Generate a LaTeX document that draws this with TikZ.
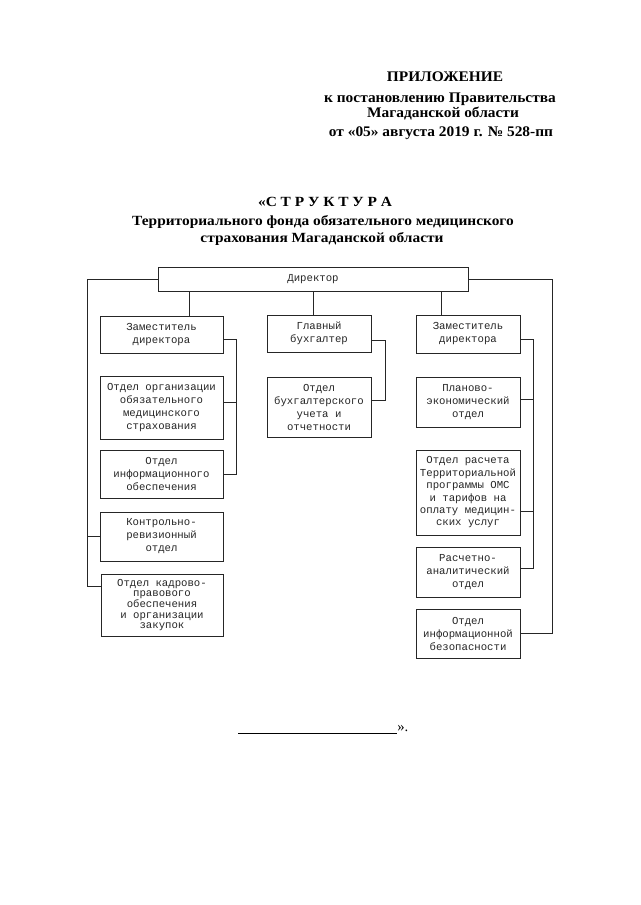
\documentclass[tikz,border=0pt]{standalone}
\usepackage{fontspec}
\usepackage{graphicx}
\setmainfont{Liberation Serif}
\newfontfamily\boxfont{Liberation Mono}
\usetikzlibrary{calc}
\newcommand{\hdtext}[1]{\scalebox{1.1}[1]{#1}}
\newcommand{\hdtextB}[1]{\scalebox{1.05}[1]{#1}}
\begin{document}
\begin{tikzpicture}[x=0.75pt,y=-0.75pt,
  orgbox/.style={draw=black!85, line width=0.65pt, align=center, inner sep=1pt,
    font=\boxfont\fontsize{8}{9.75}\selectfont, text=black!85},
  link/.style={draw=black!85, line width=0.65pt},
  head/.style={font=\bfseries\fontsize{10.5}{12}\selectfont, align=center, inner sep=0pt},
  headB/.style={font=\bfseries\fontsize{11}{13}\selectfont, align=center, inner sep=0pt}]
\useasboundingbox (0,0) rectangle (640,905);
\fill[white] (0,0) rectangle (640,905);

% header
\node[headB] (h1) at (445,77) {\hdtextB{ПРИЛОЖЕНИЕ}};
\node[headB] (h2) at (440,99) {\hdtextB{к постановлению Правительства}};
\node[headB] (h3) at (443,114) {\hdtextB{Магаданской области}};
\node[headB] (h4) at (441,133) {\hdtextB{от «05» августа 2019 г. № 528-пп}};

% title
\node[head] (t1) at (325,202) {\hdtext{«С Т Р У К Т У Р А}};
\node[head] (t2) at (323,222) {\hdtext{Территориального фонда обязательного медицинского}};
\node[head] (t3) at (322,239) {\hdtext{страхования Магаданской области}};

% boxes
\node[orgbox, minimum width=232.5pt, minimum height=18pt] (dir) at (313,279) {Директор};
\node[orgbox, minimum width=92.25pt, minimum height=27.75pt] (zamL) at (161.5,334.5) {Заместитель\\директора};
\node[orgbox, minimum width=78pt, minimum height=27.75pt] (glav) at (319,333.5) {Главный\\бухгалтер};
\node[orgbox, minimum width=78pt, minimum height=28.5pt] (zamR) at (468,334) {Заместитель\\директора};

\node[orgbox, minimum width=92.25pt, minimum height=47.25pt] (oms) at (161.5,407.5) {Отдел организации\\обязательного\\медицинского\\страхования};
\node[orgbox, minimum width=92.25pt, minimum height=36pt] (info) at (161.5,474) {Отдел\\информационного\\обеспечения};
\node[orgbox, minimum width=92.25pt, minimum height=36.75pt] (kontr) at (161.5,536.5) {Контрольно-\\ревизионный\\отдел};
\node[orgbox, minimum width=91.5pt, minimum height=46.5pt,
      font=\boxfont\fontsize{8}{7.9}\selectfont] (kadr) at (162,605) {Отдел кадрово-\\правового\\обеспечения\\и организации\\закупок};

\node[orgbox, minimum width=78pt, minimum height=45pt] (buh) at (319,407) {Отдел\\бухгалтерского\\учета и\\отчетности};

\node[orgbox, minimum width=78pt, minimum height=37.5pt] (plan) at (468,402) {Планово-\\экономический\\отдел};
\node[orgbox, minimum width=78pt, minimum height=63.75pt,
      font=\boxfont\fontsize{8}{9.3}\selectfont] (rasch) at (468,492.5) {Отдел расчета\\Территориальной\\программы ОМС\\и тарифов на\\оплату медицин-\\ских услуг};
\node[orgbox, minimum width=78pt, minimum height=37.5pt] (ranal) at (468,572) {Расчетно-\\аналитический\\отдел};
\node[orgbox, minimum width=78pt, minimum height=36.75pt] (bez) at (468,633.5) {Отдел\\информационной\\безопасности};

% director stubs
\draw[link] (dir.south -| 189,0) -- (zamL.north -| 189,0);
\draw[link] (dir.south -| 313,0) -- (glav.north -| 313,0);
\draw[link] (dir.south -| 441,0) -- (zamR.north -| 441,0);

% outer left
\coordinate (Lbot) at (87,586);
\draw[link] (dir.west) -| (Lbot) -- (kadr.west |- Lbot);
\draw[link] (kontr.west) -- (kontr.west -| Lbot);
% outer right
\coordinate (Rbot) at (552,633.5);
\draw[link] (dir.east) -| (Rbot) -- (bez.east);

% left bracket
\coordinate (LBt) at (236,339);
\coordinate (LBb) at (236,474);
\draw[link] (zamL.east |- LBt) -- (LBt) -- (LBb) -- (info.east);
\draw[link] (oms.east |- 0,402) -- (236,402);

% middle bracket
\coordinate (MBt) at (385,340);
\coordinate (MBb) at (385,400);
\draw[link] (glav.east |- MBt) -- (MBt) -- (MBb) -- (buh.east |- MBb);

% right bracket
\coordinate (RBt) at (533,339);
\coordinate (RBb) at (533,568);
\draw[link] (zamR.east |- RBt) -- (RBt) -- (RBb) -- (ranal.east |- RBb);
\draw[link] (plan.east |- 0,399) -- (533,399);
\draw[link] (rasch.east |- 0,511) -- (533,511);

% closing line
\node[font=\fontsize{11}{13}\selectfont, anchor=west, inner sep=0pt] (close) at (397,729) {».};
\coordinate (lineL) at (238,733);
\draw[line width=0.6pt] (lineL) -- (lineL -| close.west);
\end{tikzpicture}
\end{document}
